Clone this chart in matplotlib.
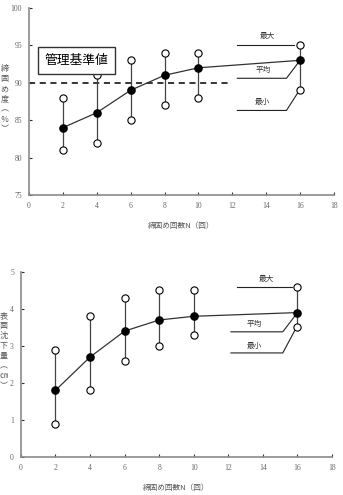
import matplotlib.pyplot as plt

plt.rcParams['font.family'] = ['Liberation Serif', 'Noto Sans CJK JP']

n = [2, 4, 6, 8, 10, 16]

# 締固め度 (%)
deg_mean = [84, 86, 89, 91, 92, 93]
deg_max = [88, 91, 93, 94, 94, 95]
deg_min = [81, 82, 85, 87, 88, 89]

# 表面沈下量 (cm)
set_mean = [1.8, 2.7, 3.4, 3.7, 3.8, 3.9]
set_max = [2.9, 3.8, 4.3, 4.5, 4.5, 4.6]
set_min = [0.9, 1.8, 2.6, 3.0, 3.3, 3.5]

xticks = [0, 2, 4, 6, 8, 10, 12, 14, 16, 18]
jp = 'Noto Sans CJK JP'
grey = '#8a8a8a'


def base(ax, ylim, yticks):
    ax.set_xlim(0, 18)
    ax.set_ylim(*ylim)
    ax.set_xticks(xticks)
    ax.set_yticks(yticks)
    for s in ['top', 'right']:
        ax.spines[s].set_visible(False)
    for s in ['left', 'bottom']:
        ax.spines[s].set_color(grey)
        ax.spines[s].set_linewidth(1.2)
    ax.tick_params(direction='in', length=2.5, width=0.8, color='#333333',
                   labelsize=5.5, labelcolor='#666666', pad=5)


def series(ax, mean, vmax, vmin):
    ax.vlines(n, vmin, vmax, color='#444444', lw=0.9, zorder=2)
    ax.plot(n, mean, color='#333333', lw=0.9, zorder=3)
    ax.plot(n, vmax, 'o', ms=5.2, mfc='white', mec='black', mew=0.8, zorder=4)
    ax.plot(n, vmin, 'o', ms=5.2, mfc='white', mec='black', mew=0.8, zorder=4)
    ax.plot(n, mean, 'o', ms=5.2, mfc='black', mec='black', zorder=5)


def note(ax, x, y, s):
    ax.text(x, y, s, family=jp, fontsize=5.5, ha='center', va='center', color='#333333')


def vlabel(x, y, s):
    fig.text(x, y, '\n'.join(s), family=jp, fontsize=5.8, color='#555555',
             ha='center', va='center', linespacing=1.15)


fig = plt.figure(figsize=(3.43, 4.95), dpi=100)
lk = dict(color='#222222', lw=0.8)

# upper chart
ax1 = fig.add_axes([0.0845, 0.606, 0.889, 0.378])
base(ax1, (75, 100), [75, 80, 85, 90, 95, 100])
ax1.plot([0, 11.8], [90, 90], color='black', lw=1.1, ls=(0, (4, 3)), zorder=1)
series(ax1, deg_mean, deg_max, deg_min)
ax1.text(2.8, 92.95, '管理基準値', family=jp, fontsize=9.2, ha='center', va='center',
         zorder=6, bbox=dict(boxstyle='square,pad=0.55', fc='white', ec='#333333', lw=1.0))
ax1.plot([12.3, 15.65], [95, 95], **lk)
ax1.plot([12.3, 15.2, 16], [90.6, 90.6, 93], **lk)
ax1.plot([12.3, 15.2, 15.85], [86.3, 86.3, 88.6], **lk)
note(ax1, 14.05, 96.2, '最大')
note(ax1, 13.8, 91.7, '平均')
note(ax1, 13.8, 87.4, '最小')
ax1.set_xlabel('締固め回数N（回）', family=jp, fontsize=5.5, color='#555555', labelpad=9)
vlabel(0.013, 0.80, '締固め度︵％︶')

# lower chart
ax2 = fig.add_axes([0.061, 0.0768, 0.907, 0.374])
base(ax2, (0, 5), [0, 1, 2, 3, 4, 5])
series(ax2, set_mean, set_max, set_min)
ax2.plot([12.5, 15.7], [4.6, 4.6], **lk)
ax2.plot([12.15, 15.15, 16], [3.38, 3.38, 3.9], **lk)
ax2.plot([12.15, 15.15, 15.85], [2.81, 2.81, 3.42], **lk)
note(ax2, 14.2, 4.8, '最大')
note(ax2, 13.5, 3.6, '平均')
note(ax2, 13.5, 3.0, '最小')
ax2.set_xlabel('締固め回数N（回）', family=jp, fontsize=5.5, color='#555555', labelpad=9)
vlabel(0.011, 0.292, '表面沈下量︵㎝︶')

fig.savefig('out.png', dpi=100)
plt.close()
